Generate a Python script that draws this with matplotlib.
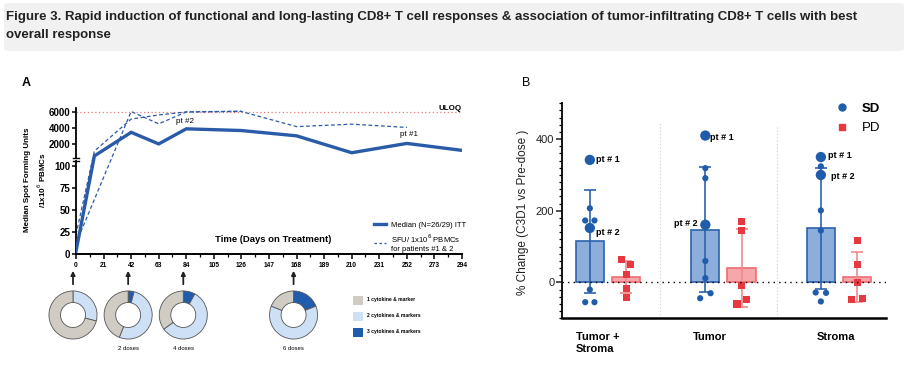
import numpy as np
import matplotlib
matplotlib.use("Agg")
import matplotlib.pyplot as plt
from matplotlib.patches import FancyBboxPatch, FancyArrowPatch, Rectangle
from matplotlib.lines import Line2D
from matplotlib.ticker import NullLocator, MultipleLocator

plt.rcParams['font.family'] = ['Liberation Sans', 'DejaVu Sans']

# ---------------- data: panel A (ELISpot over time) ----------------
median_days = [0, 14, 42, 63, 84, 126, 168, 210, 252, 294]
median_sfu = [3, 560, 3450, 2030, 3880, 3670, 3020, 950, 2090, 1240]

pt1_days = [0, 42, 63, 84, 126, 168, 210, 252]
pt1_sfu = [12, 6000, 4490, 5950, 6000, 4150, 4450, 4050]
pt2_days = [0, 14, 42, 63, 84, 126]
pt2_sfu = [22, 1150, 5070, 5580, 5950, 6050]

uloq = 5880
day_ticks = list(range(0, 295, 21))

# donut summaries (fraction of responders)
donut_days = [0, 42, 84, 168]
donut_doses = ["", "2 doses", "4 doses", "6 doses"]
one_cytokine = [0.71, 0.44, 0.35, 0.19]
two_cytokines = [0.29, 0.52, 0.57, 0.62]
three_cytokines = [0.0, 0.04, 0.08, 0.19]
donut_labels = ["1 cytokine & marker", "2 cytokines & markers", "3 cytokines & markers"]

# ---------------- data: panel B (% change C3D1 vs pre-dose) ----------------
categories = ["Tumor +\nStroma", "Tumor", "Stroma"]
sd_values = [
    [342, 207, 173, 173, 152, -20, -55, -55],
    [410, 319, 291, 161, 60, 12, -44, -30],
    [350, 324, 300, 201, 145, -28, -29, -53],
]
pd_values = [
    [63, 51, 21, -16, -42],
    [170, 144, -8, -60, -48],
    [117, 49, 1, -48, -45],
]
pt1_index = [0, 0, 0]
pt2_index = [4, 3, 2]

# ---------------- layout / style ----------------
W, H = 908, 365
BLUE = '#2a5ba8'
DARK = '#1f5cab'
LIGHT = '#cde0f6'
GREY = '#d0ccc4'
RED = '#e8383f'

sd_jitter = [[0, 0, -0.04, 0.04, 0, 0, -0.04, 0.04],
             [0, 0, 0, 0, 0, 0, -0.045, 0.045],
             [0, 0, 0, 0, 0, -0.045, 0.045, 0]]
pd_jitter = [[-0.04, 0.04, 0, 0, 0],
             [0, 0, 0, -0.04, 0.04],
             [0, 0, 0, -0.045, 0.045]]


def fx(px):
    return px / W


def fy(py):
    return 1 - py / H


fig = plt.figure(figsize=(W / 100, H / 100), dpi=100)

# title banner
fig.patches.append(FancyBboxPatch((fx(4), fy(51)), fx(900), 48 / H,
                                  boxstyle="round,pad=0,rounding_size=0.006",
                                  transform=fig.transFigure, facecolor='#f1f1f1',
                                  edgecolor='none', zorder=0))
fig.text(fx(6), fy(17), "Figure 3. Rapid induction of functional and long-lasting CD8+ T cell responses "
         "& association of tumor-infiltrating CD8+ T cells with best",
         fontweight='bold', fontsize=9.5, va='center', ha='left', color='#222222')
fig.text(fx(6), fy(35), "overall response",
         fontweight='bold', fontsize=9.5, va='center', ha='left', color='#222222')

fig.text(fx(22), fy(83), "A", fontsize=9, fontweight='bold', va='center')
fig.text(fx(522), fy(83), "B", fontsize=9, va='center')

# ---------------- panel A ----------------
K_LO, F_GAP, K_HI = 0.883, 94.2, 0.00815


def fwd(y):
    y = np.asarray(y, dtype=float)
    return np.where(y <= 100, y * K_LO, F_GAP + (y - 100) * K_HI)


def inv(f):
    f = np.asarray(f, dtype=float)
    return np.where(f <= 100 * K_LO, f / K_LO,
                    np.where(f < F_GAP, 100.0, 100 + (f - F_GAP) / K_HI))


axA = fig.add_axes([fx(76), fy(254), 386 / W, (254 - 107.6) / H])
axA.set_yscale('function', functions=(fwd, inv))
axA.set_xlim(0, 294)
axA.set_ylim(0, 6480)

axA.axhline(uloq, color='#ee7777', lw=0.9, ls=(0, (1, 2)), zorder=1)
axA.plot(pt1_days, pt1_sfu, color=BLUE, lw=0.9, ls=(0, (3, 2)), zorder=2)
axA.plot(pt2_days, pt2_sfu, color=BLUE, lw=0.9, ls=(0, (3, 2)), zorder=2)
axA.plot(median_days, median_sfu, color=BLUE, lw=2.4, zorder=3, solid_joinstyle='miter')

axA.annotate("pt #2", (pt2_days[4], pt2_sfu[4]), xytext=(-1, -6), textcoords='offset pixels',
             fontsize=5.8, ha='center', va='top')
axA.annotate("pt #1", (pt1_days[-1], pt1_sfu[-1]), xytext=(2, -4), textcoords='offset pixels',
             fontsize=5.8, ha='center', va='top')
axA.text(1.0, uloq, "ULOQ", transform=axA.get_yaxis_transform(), fontsize=5.8,
         fontweight='bold', ha='right', va='bottom')
axA.text(0.51, 0.1, "Time (Days on Treatment)", transform=axA.transAxes, fontsize=6.8,
         fontweight='bold', ha='center', va='center')

axA.set_yticks([0, 25, 50, 75, 100, 2000, 4000, 6000])
axA.yaxis.set_minor_locator(NullLocator())
axA.set_xticks(day_ticks)
axA.xaxis.set_minor_locator(MultipleLocator(10.5))
axA.tick_params(axis='y', labelsize=7, width=1.1, length=3, pad=1)
axA.tick_params(axis='x', labelsize=4.8, width=1.1, length=3.5, pad=2)
axA.tick_params(axis='x', which='minor', width=0.9, length=2)
for lab in axA.get_xticklabels() + axA.get_yticklabels():
    lab.set_fontweight('bold')
for s in ['top', 'right', 'left']:
    axA.spines[s].set_visible(False)
axA.spines['bottom'].set_linewidth(1.4)
# broken y axis
lo_top, hi_bot = 93 / 146.4, 95.7 / 146.4
axA.plot([0, 0], [0, lo_top], transform=axA.transAxes, color='k', lw=1.3, clip_on=False)
axA.plot([0, 0], [hi_bot, 1], transform=axA.transAxes, color='k', lw=1.3, clip_on=False)
for yb in (lo_top, hi_bot):
    axA.plot([-0.008, 0.008], [yb, yb], transform=axA.transAxes, color='k', lw=1.0, clip_on=False)

fig.text(fx(36), fy(180), "Median Spot Forming Units\n/1x10$^6$ PBMCs", rotation=90,
         fontsize=5.8, fontweight='bold', ha='center', va='center', linespacing=1.5)

legA = axA.legend([Line2D([], [], color=BLUE, lw=2.4),
                   Line2D([], [], color=BLUE, lw=0.9, ls=(0, (2, 2)))],
                  ["Median (N=26/29) ITT", "SFU/ 1x10$^6$ PBMCs\nfor patients #1 & 2"],
                  loc='upper left', bbox_to_anchor=(fx(370), fy(218)),
                  bbox_transform=fig.transFigure, frameon=False, fontsize=5.5,
                  handlelength=1.6, handletextpad=0.7, labelspacing=0.5, borderpad=0)

# donuts + arrows under the time axis
for i, day in enumerate(donut_days):
    cx = axA.transData.transform((day, 0))[0] - 3
    dax = fig.add_axes([(cx - 25) / W, fy(315 + 25), 50 / W, 50 / H])
    dax.pie([three_cytokines[i], two_cytokines[i], one_cytokine[i]],
            colors=[DARK, LIGHT, GREY], startangle=90, counterclock=False, radius=1,
            wedgeprops=dict(width=0.48, edgecolor='#555555', linewidth=0.6))
    dax.set_xlim(-1.04, 1.04)
    dax.set_ylim(-1.04, 1.04)
    dax.axis('off')
    fig.patches.append(FancyArrowPatch((cx / W, fy(287)), (cx / W, fy(268)),
                                       transform=fig.transFigure, arrowstyle='-|>',
                                       mutation_scale=6, lw=1.3, color='#222222'))
    if donut_doses[i]:
        fig.text(cx / W, fy(348), donut_doses[i], fontsize=4.3, ha='center', va='center')

for j, (lab, col) in enumerate(zip(donut_labels, [GREY, LIGHT, DARK])):
    yc = 300 + j * 16
    fig.patches.append(Rectangle((fx(353), fy(yc + 4.5)), 10 / W, 9 / H,
                                 transform=fig.transFigure, facecolor=col, edgecolor='none'))
    fig.text(fx(367), fy(yc), lab, fontsize=3.6, fontweight='bold', ha='left', va='center')

# ---------------- panel B ----------------
axB = fig.add_axes([fx(562), fy(318.3), 324 / W, (318.3 - 103.3) / H])
axB.set_xlim(-0.398, 2.407)
axB.set_ylim(-100, 500)
off, bw = 0.157, 0.245

axB.axhline(0, color='k', lw=1.0, ls=(0, (1, 3)), zorder=4)
axB.axvline(0.45, ymax=0.91, color='#cccccc', lw=0.8, ls=(0, (1, 2)), zorder=0)
axB.axvline(1.46, ymax=0.89, color='#cccccc', lw=0.8, ls=(0, (1, 2)), zorder=0)

for g in range(3):
    sdv = np.array(sd_values[g], dtype=float)
    pdv = np.array(pd_values[g], dtype=float)
    xs, xp = g - off, g + off
    axB.bar(xs, sdv.mean(), width=bw, color='#8dadda', edgecolor='#2c62ad', lw=1.2, zorder=1)
    axB.bar(xp, pdv.mean(), width=bw, color='#f6a7a9', edgecolor='#ee6d71', lw=1.2, zorder=1)
    axB.errorbar(xs, sdv.mean(), yerr=sdv.std(ddof=1), color='#2c62ad', lw=1.2,
                 capsize=4.5, capthick=1.2, zorder=2)
    axB.errorbar(xp, pdv.mean(), yerr=pdv.std(ddof=1), color='#f08a8d', lw=1.2,
                 capsize=4.5, capthick=1.2, zorder=2)
    big = [pt1_index[g], pt2_index[g]]
    for k, v in enumerate(sdv):
        axB.scatter(xs + sd_jitter[g][k], v, s=55 if k in big else 20, color=DARK,
                    edgecolors='none', zorder=3)
    for k, v in enumerate(pdv):
        axB.scatter(xp + pd_jitter[g][k], v, s=26, marker='s', color=RED,
                    edgecolors='none', zorder=3)

# patient labels (group, which, dx, dy, ha)
pt_labels = [(0, 1, 6, 0, 'left'), (0, 2, 6, -4, 'left'),
             (1, 1, 5, -2, 'left'), (1, 2, -8, 1, 'right'),
             (2, 1, 7, 2, 'left'), (2, 2, 10, -2, 'left')]
for g, which, dx, dy, ha in pt_labels:
    idx = pt1_index[g] if which == 1 else pt2_index[g]
    axB.annotate("pt # %d" % which, (g - off + sd_jitter[g][idx], sd_values[g][idx]),
                 xytext=(dx, dy), textcoords='offset pixels', fontsize=6.5,
                 fontweight='bold', ha=ha, va='center', zorder=5)

axB.set_yticks([0, 200, 400])
axB.yaxis.set_minor_locator(MultipleLocator(20))
axB.tick_params(axis='y', labelsize=8, width=1.1, length=4, pad=1.5, colors='#222222')
axB.tick_params(axis='y', which='minor', width=0.9, length=2.3)
axB.set_xticks([])
for s in ['top', 'right']:
    axB.spines[s].set_visible(False)
axB.spines['left'].set_linewidth(1.3)
axB.spines['bottom'].set_linewidth(1.8)

cat_x = [-0.278, 0.883, 1.974]
cat_ha = ['left', 'center', 'center']
for g, lab in enumerate(categories):
    axB.text(cat_x[g], -0.065, lab, transform=axB.get_xaxis_transform(), fontsize=8,
             fontweight='bold', ha=cat_ha[g], va='top', multialignment='left',
             linespacing=1.2)

fig.text(fx(523), fy(212), "% Change (C3D1 vs Pre-dose )", rotation=90, fontsize=8.5,
         ha='center', va='center', color='#222222')

legB = axB.legend([Line2D([], [], marker='o', color=DARK, ls='none', markersize=5),
                   Line2D([], [], marker='s', color=RED, ls='none', markersize=5)],
                  ["SD", "PD"], loc='upper left', bbox_to_anchor=(fx(829), fy(96)),
                  bbox_transform=fig.transFigure, frameon=False, fontsize=9.5,
                  handlelength=1.0, handletextpad=1.0, labelspacing=0.55, borderpad=0)
legB.get_texts()[0].set_fontweight('bold')

fig.savefig("out.png", dpi=100)
